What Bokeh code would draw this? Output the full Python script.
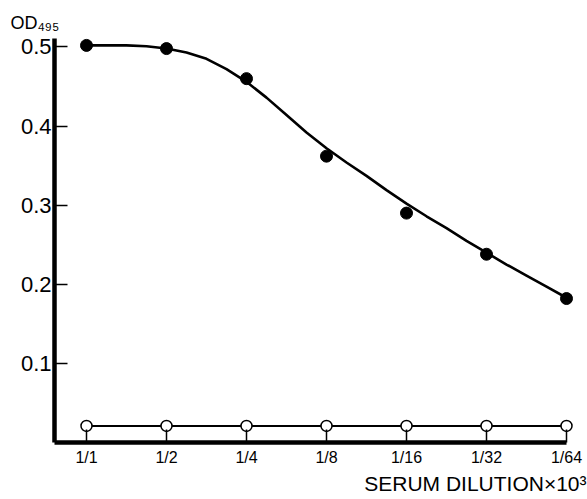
from bokeh.plotting import figure
from bokeh.models import Range1d, FixedTicker, Title, ColumnDataSource, PrintfTickFormatter
from bokeh.embed import file_html
from bokeh.resources import INLINE

# ---- data ----
dilutions = ["1/1", "1/2", "1/4", "1/8", "1/16", "1/32", "1/64"]
immune_od = [0.502, 0.498, 0.460, 0.362, 0.290, 0.238, 0.182]
control_od = [0.021, 0.021, 0.021, 0.021, 0.021, 0.021, 0.021]
# fitted curve at these dilution positions
fit_pos = [0, 0.25, 0.5, 0.75, 1, 1.25, 1.5, 1.75, 2, 2.25, 2.5, 2.75, 3,
           3.25, 3.5, 3.75, 4, 4.25, 4.5, 4.75, 5, 5.25, 5.5, 5.75, 6]
fit_od = [0.502, 0.502, 0.502, 0.501, 0.498, 0.493, 0.485, 0.472, 0.456,
          0.436, 0.414, 0.392, 0.372, 0.354, 0.337, 0.319, 0.302, 0.286,
          0.271, 0.255, 0.240, 0.225, 0.211, 0.197, 0.183]
y_ticks = [0.1, 0.2, 0.3, 0.4, 0.5]

FONT = "Liberation Sans"
pos = list(range(len(dilutions)))

p = figure(width=587, height=499, output_backend="svg", toolbar_location=None,
           x_range=Range1d(-0.4, 6.1), y_range=Range1d(0, 0.512))
p.min_border_left = 54
p.min_border_right = 13
p.min_border_top = 37
p.min_border_bottom = 57
p.outline_line_color = None
p.grid.visible = False
p.background_fill_color = "white"
p.border_fill_color = "white"

src_pts = ColumnDataSource(dict(x=pos, immune=immune_od, control=control_od))
src_fit = ColumnDataSource(dict(x=fit_pos, y=fit_od))

p.line("x", "y", source=src_fit, line_color="black", line_width=2.6, line_join="round")
p.line("x", "control", source=src_pts, line_color="black", line_width=2)
p.scatter("x", "immune", source=src_pts, size=12, fill_color="black", line_color="black")
p.scatter("x", "control", source=src_pts, size=11, fill_color="white",
          line_color="black", line_width=1.5)

# axes
xa = p.xaxis[0]
xa.ticker = FixedTicker(ticks=pos)
xa.major_label_overrides = {i: d for i, d in zip(pos, dilutions)}
xa.bounds = (-0.4, 6.0)
xa.axis_line_width = 4.5
xa.major_tick_in = 13
xa.major_tick_out = 0
xa.major_tick_line_width = 1.5
xa.minor_tick_line_color = None
xa.major_label_text_font = FONT
xa.major_label_text_font_size = "16px"
xa.major_label_text_color = "black"
xa.major_label_standoff = 6

ya = p.yaxis[0]
ya.ticker = FixedTicker(ticks=y_ticks)
ya.formatter = PrintfTickFormatter(format="%.1f")
ya.bounds = (0, 0.511)
ya.axis_line_width = 4.5
ya.major_tick_in = 13
ya.major_tick_out = 0
ya.major_tick_line_width = 1.5
ya.minor_tick_line_color = None
ya.major_label_text_font = FONT
ya.major_label_text_font_size = "22px"
ya.major_label_text_color = "black"
ya.major_label_standoff = 3

# titles
p.add_layout(Title(text="SERUM DILUTION×10³", align="right", offset=-12, standoff=3,
                   text_font=FONT, text_font_size="21px", text_font_style="normal",
                   text_color="black"), "below")
p.add_layout(Title(text="OD₄₉₅", align="left", offset=-44, standoff=9,
                   text_font=FONT, text_font_size="18px", text_font_style="normal",
                   text_color="black"), "above")

open("out.html", "w").write(file_html(p, INLINE))
